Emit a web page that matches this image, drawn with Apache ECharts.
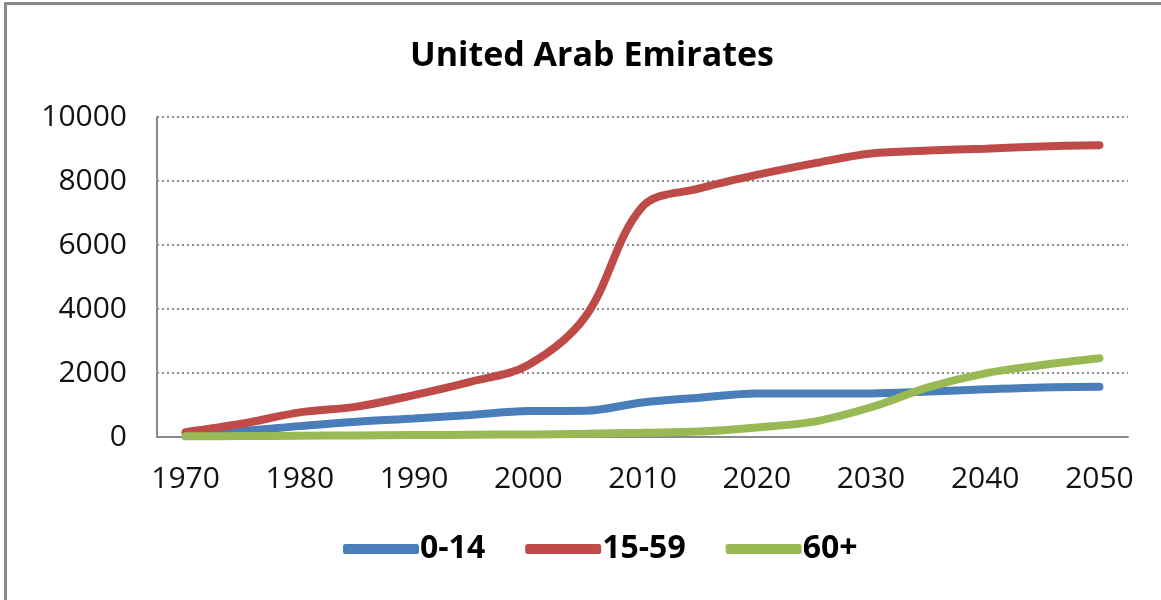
<!DOCTYPE html>
<html>
<head>
<meta charset="utf-8">
<script src="https://cdn.jsdelivr.net/npm/echarts@6/dist/echarts.min.js"></script>
<style>
  html, body { margin: 0; padding: 0; background: #fff; overflow: hidden; }
  .frame {
    position: absolute; left: 4px; top: 2px;
    width: 1200px; height: 640px;
    border-left: 3px solid #8a8a8a; border-top: 3px solid #8a8a8a;
  }
  #chart { position: absolute; left: 0; top: 0; width: 1161px; height: 600px; }
</style>
</head>
<body>
<div class="frame"></div>
<div id="chart"></div>
<script>
// 5-year steps, labels shown every 10 years
const years = ['1970', '1975', '1980', '1985', '1990', '1995', '2000', '2005', '2010',
  '2015', '2020', '2025', '2030', '2035', '2040', '2045', '2050']
const age0to14 = [110, 190, 340, 480, 580, 690, 810, 820, 1080, 1230, 1360, 1360, 1360, 1420, 1490, 1550, 1570]
const age15to59 = [150, 420, 770, 950, 1310, 1730, 2250, 3760, 7200, 7770, 8190, 8550, 8860, 8950, 9010, 9080, 9120]
const age60plus = [20, 30, 40, 50, 60, 70, 80, 100, 130, 170, 300, 480, 930, 1550, 1990, 2250, 2460]

const chart = echarts.init(document.getElementById('chart'))

const makeSeries = (name, data, color) => ({
  name: name,
  type: 'line',
  data: data,
  smooth: 0.35,
  symbol: 'none',
  lineStyle: { width: 8, color: color, cap: 'round' },
  itemStyle: { color: color }
})

chart.setOption({
  backgroundColor: 'transparent',
  animation: false,
  title: {
    text: 'United Arab Emirates',
    left: 405,
    top: 34,
    textStyle: { fontFamily: 'Open Sans', fontWeight: 'bold', fontSize: 34, color: '#000' }
  },
  legend: {
    bottom: 30,
    left: 338,
    itemWidth: 76,
    itemHeight: 10,
    itemGap: 40,
    icon: 'roundRect',
    textStyle: { fontFamily: 'Open Sans', fontWeight: 'bold', fontSize: 32, color: '#000', padding: [0, 0, 0, -4] },
    data: ['0-14', '15-59', '60+']
  },
  grid: { left: 157, right: 33, top: 117, bottom: 163 },
  xAxis: {
    type: 'category',
    data: years,
    boundaryGap: true,
    axisLine: { lineStyle: { color: '#8a8a8a', width: 2 } },
    axisTick: { show: false },
    axisLabel: { interval: 1, margin: 27, fontFamily: 'Open Sans', fontSize: 30, color: '#111' }
  },
  yAxis: {
    type: 'value',
    min: 0,
    max: 10000,
    interval: 2000,
    axisLine: { show: true, lineStyle: { color: '#8a8a8a', width: 2 } },
    axisTick: { show: false },
    axisLabel: { margin: 30, fontFamily: 'Open Sans', fontSize: 30, color: '#111', formatter: (v) => String(v) },
    splitLine: { lineStyle: { color: '#8c8c8c', width: 2, type: [2, 3] } }
  },
  series: [
    makeSeries('0-14', age0to14, '#4a7ebb'),
    makeSeries('15-59', age15to59, '#be4b48'),
    makeSeries('60+', age60plus, '#98b954')
  ]
})
</script>
</body>
</html>
